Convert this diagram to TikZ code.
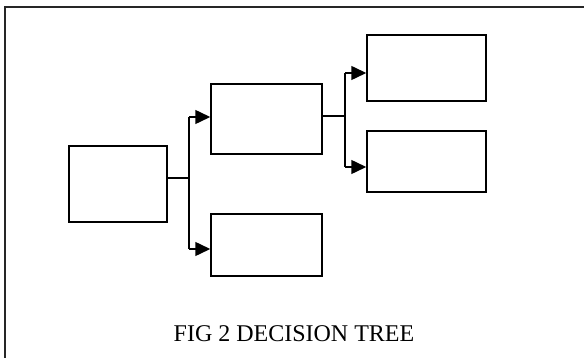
\documentclass[tikz,border=0pt]{standalone}
\usepackage{fontspec}
\setmainfont{Liberation Serif}
\usetikzlibrary{arrows.meta}
\begin{document}
\begin{tikzpicture}[x=1pt,y=-1pt,
  box/.style={draw=black,line width=1.5pt,inner sep=0pt,fill=white},
  link/.style={draw=black,line width=1.5pt},
  branch/.style={link,-{Triangle[length=15pt,width=14pt]}},
  frameline/.style={draw=black!85,line width=2.6pt}]
\useasboundingbox (0,0) rectangle (584,358);

% partial page frame: top and left edges only
\coordinate (ftl) at (5,7);
\coordinate (ftr) at (584,7);
\coordinate (fbl) at (5,358);
\draw[frameline] (fbl) -- (ftl) -- (ftr);

% decision boxes
\node[box,minimum width=98pt,minimum height=76pt]  (root) at (118,184) {};
\node[box,minimum width=111pt,minimum height=70pt] (m1)   at (266.5,119) {};
\node[box,minimum width=111pt,minimum height=62pt] (m2)   at (266.5,245) {};
\node[box,minimum width=119pt,minimum height=66pt] (r1)   at (426.5,68) {};
\node[box,minimum width=119pt,minimum height=61pt] (r2)   at (426.5,161.5) {};

% first split
\coordinate (j1) at (189,178);
\coordinate (j1a) at (189,117);
\coordinate (j1b) at (189,249);
\draw[link] (j1 -| root.east) -- (j1);
\draw[link] (j1a) -- (j1b);
\draw[branch] (j1a) -- (j1a -| m1.west);
\draw[branch] (j1b) -- (j1b -| m2.west);

% second split
\coordinate (j2) at (345,116);
\coordinate (j2a) at (345,73);
\coordinate (j2b) at (345,167);
\draw[link] (j2 -| m1.east) -- (j2);
\draw[link] (j2a) -- (j2b);
\draw[branch] (j2a) -- (j2a -| r1.west);
\draw[branch] (j2b) -- (j2b -| r2.west);

% caption
\node[font=\fontsize{24}{28}\selectfont,anchor=base,inner sep=0pt] (cap) at (294,341.5) {FIG 2 DECISION TREE};
\end{tikzpicture}
\end{document}
